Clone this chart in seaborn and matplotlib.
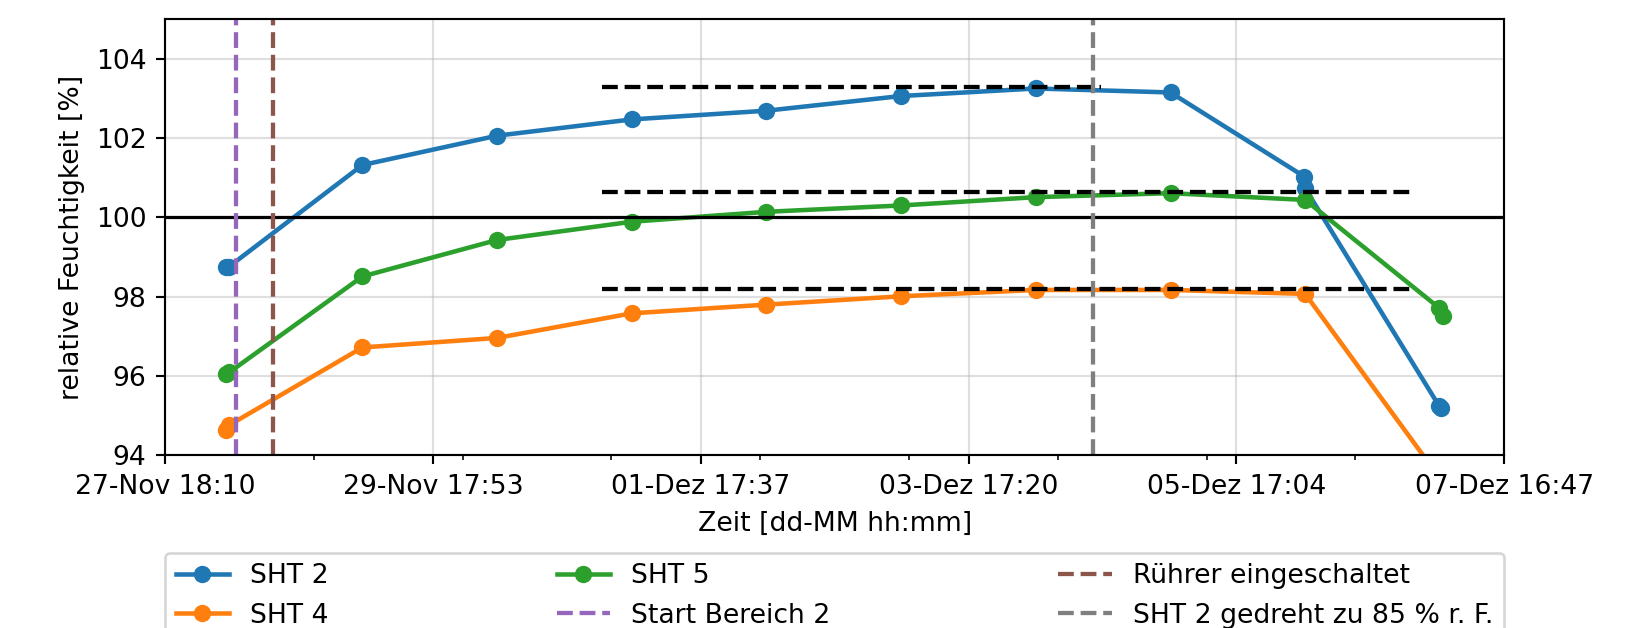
import matplotlib
matplotlib.use("Agg")
import matplotlib.pyplot as plt
import matplotlib.dates as mdates
import numpy as np
import pandas as pd
import seaborn as sns

# --- data ---
sht2_time = ["2020-11-28 05:00", "2020-11-28 05:35", "2020-11-29 05:20", "2020-11-30 05:20",
             "2020-12-01 05:20", "2020-12-02 05:20", "2020-12-03 05:20", "2020-12-04 05:20",
             "2020-12-05 05:20", "2020-12-06 05:10", "2020-12-06 05:20", "2020-12-07 05:10",
             "2020-12-07 05:35"]
sht2_rh = [98.76, 98.76, 101.32, 102.06, 102.47, 102.69, 103.06, 103.25, 103.15,
           101.03, 100.73, 95.25, 95.20]

sht4_time = ["2020-11-28 05:00", "2020-11-28 05:35", "2020-11-29 05:20", "2020-11-30 05:20",
             "2020-12-01 05:20", "2020-12-02 05:20", "2020-12-03 05:20", "2020-12-04 05:20",
             "2020-12-05 05:20", "2020-12-06 05:20", "2020-12-07 05:20"]
sht4_rh = [94.64, 94.76, 96.72, 96.96, 97.58, 97.80, 98.01, 98.17, 98.17, 98.07, 93.42]

sht5_time = ["2020-11-28 05:00", "2020-11-28 05:35", "2020-11-29 05:20", "2020-11-30 05:20",
             "2020-12-01 05:20", "2020-12-02 05:20", "2020-12-03 05:20", "2020-12-04 05:20",
             "2020-12-05 05:20", "2020-12-06 05:20", "2020-12-07 05:10", "2020-12-07 05:50"]
sht5_rh = [96.05, 96.09, 98.51, 99.43, 99.89, 100.14, 100.30, 100.51, 100.61, 100.44,
           97.72, 97.52]

# reference levels (black dashed)
ref_levels = [103.28, 100.63, 98.19]
ref_start = ["2020-12-01 00:00", "2020-12-01 00:00", "2020-12-01 00:00"]
ref_end = ["2020-12-04 17:00", "2020-12-07 00:00", "2020-12-07 00:00"]

# events (vertical dashed)
event_labels = ["Start Bereich 2", "Rührer eingeschaltet", "SHT 2 gedreht zu 85 % r. F."]
event_time = ["2020-11-28 06:50", "2020-11-28 13:20", "2020-12-04 15:28"]
event_colors = ["tab:purple", "tab:brown", "tab:gray"]

x_start, x_end = "2020-11-27 18:10", "2020-12-07 16:47"
xtick_labels = ["27-Nov 18:10", "29-Nov 17:53", "01-Dez 17:37",
                "03-Dez 17:20", "05-Dez 17:04", "07-Dez 16:47"]

fig = plt.figure(figsize=(1636 / 192, 628 / 192), dpi=192)
ax = fig.add_axes([0.1009, 0.2750, 0.8185, 0.6946])

series = [("SHT 2", sht2_time, sht2_rh, "tab:blue"),
          ("SHT 4", sht4_time, sht4_rh, "tab:orange"),
          ("SHT 5", sht5_time, sht5_rh, "tab:green")]
for name, t, v, c in series:
    sns.lineplot(x=pd.to_datetime(t), y=v, ax=ax, color=c, marker="o", markersize=6.5,
                 markeredgewidth=0, lw=1.7, label=name, estimator=None, sort=False)

ax.axhline(100, color="k", lw=1.2)

for lvl, s, e in zip(ref_levels, ref_start, ref_end):
    ax.plot(pd.to_datetime([s, e]), [lvl, lvl], "k--", lw=1.6)

for lab, t, c in zip(event_labels, event_time, event_colors):
    ax.axvline(pd.Timestamp(t), color=c, ls="--", lw=1.6, label=lab)

x0 = mdates.date2num(pd.Timestamp(x_start))
x1 = mdates.date2num(pd.Timestamp(x_end))
ax.set_xlim(x0, x1)
ax.set_xticks(np.linspace(x0, x1, 6), labels=xtick_labels)
ax.set_xticks(np.linspace(x0, x1, 10), minor=True)
ax.set_ylim(94, 105)
ax.set_yticks([94, 96, 98, 100, 102, 104])
ax.grid(True, alpha=0.4)
ax.set_xlabel("Zeit [dd-MM hh:mm]")
ax.set_ylabel("relative Feuchtigkeit [%]")

handles, labels = ax.get_legend_handles_labels()
order = ["SHT 2", "SHT 4", "SHT 5"] + event_labels
hmap = dict(zip(labels, handles))
ax.legend([hmap[l] for l in order], order, loc="upper left", ncol=3, mode="expand",
          bbox_to_anchor=(0, -0.2233, 1, 0), borderaxespad=0)

fig.savefig("out.png", dpi=192)
